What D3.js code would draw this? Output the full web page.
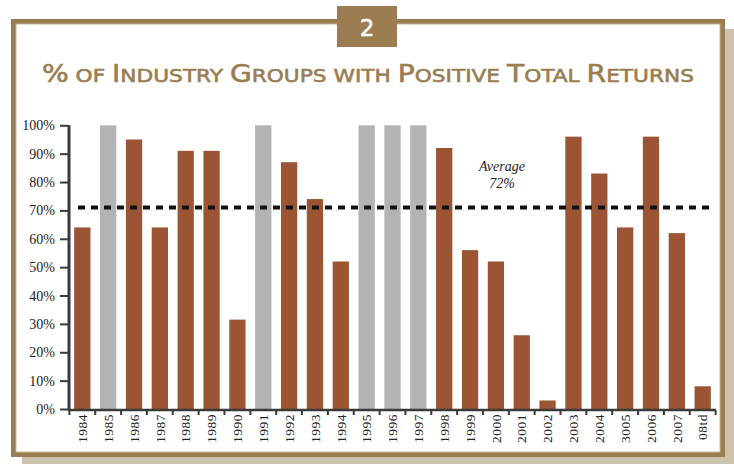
<!DOCTYPE html>
<html><head><meta charset="utf-8">
<script src="https://cdn.jsdelivr.net/npm/d3@7/dist/d3.min.js"></script>
<style>
html,body{margin:0;padding:0;background:#fff;}
svg{display:block;}
</style></head>
<body>
<svg id="chart" width="734" height="464"></svg>
<script>
// ---- data ----
const categories = ["1984","1985","1986","1987","1988","1989","1990","1991","1992","1993","1994","1995","1996","1997","1998","1999","2000","2001","2002","2003","2004","3005","2006","2007","08td"];
const values = [64,100,95,64,91,91,31.5,100,87,74,52,100,100,100,92,56,52,26,3,96,83,64,96,62,8];
const grayCategories = ["1985","1991","1995","1996","1997"];
const yTicks = [0,10,20,30,40,50,60,70,80,90,100];
const averageValue = 71;
const averageLabel = ["Average","72%"];
const chartNumber = "2";
const titleText = "% of Industry Groups with Positive Total Returns";

// ---- styles ----
const gold = "#9b7d51";
const brown = "#9b5535";
const gray = "#b3b3b3";

const svg = d3.select("#chart");

// shadow
svg.append("rect").attr("x",22).attr("y",29).attr("width",712).attr("height",435).attr("fill","#cdc2aa");
// frame
svg.append("rect").attr("x",11).attr("y",19).attr("width",714).attr("height",438).attr("fill",gold);
svg.append("rect").attr("x",16).attr("y",24).attr("width",704).attr("height",428).attr("fill","#fff");
svg.append("rect").attr("x",16).attr("y",24).attr("width",704).attr("height",428).attr("fill","none").attr("stroke","#c9b896").attr("stroke-width",1);

// number box
svg.append("rect").attr("x",337).attr("y",6).attr("width",60).attr("height",41).attr("fill",gold);
svg.append("text").attr("x",367).attr("y",36).attr("text-anchor","middle")
  .attr("font-family","DejaVu Sans").attr("font-size",23).attr("fill","#fff")
  .attr("stroke","#fff").attr("stroke-width",0.5).text(chartNumber);

// title in small caps
const title = svg.append("text").attr("x",42).attr("y",82)
  .attr("font-family","DejaVu Sans").attr("fill",gold)
  .attr("stroke",gold).attr("stroke-width",0.6)
  .attr("textLength",652).attr("lengthAdjust","spacingAndGlyphs");
const runs = [];
for (const ch of titleText) {
  const big = ch !== ch.toLowerCase() || ch === "%";
  const last = runs[runs.length-1];
  if (last && last.big === big) last.s += ch; else runs.push({big, s: ch});
}
runs.forEach(r => title.append("tspan").attr("font-size", r.big ? 24 : 18.5).text(r.big ? r.s : r.s.toUpperCase()));

// scales
const x = d3.scaleBand().domain(categories).range([69,716]).paddingInner(0.37).paddingOuter(0.2);
const y = d3.scaleLinear().domain([0,100]).range([409,125.3]);

// bars
svg.append("g").selectAll("rect").data(categories).join("rect")
  .attr("x", d => x(d))
  .attr("width", x.bandwidth())
  .attr("y", (d,i) => y(values[i]))
  .attr("height", (d,i) => y(0) - y(values[i]))
  .attr("fill", d => grayCategories.includes(d) ? gray : brown);

// y axis
const yAxis = svg.append("g").attr("transform","translate(69,0)")
  .call(d3.axisLeft(y).tickValues(yTicks).tickFormat(d => d + "%").tickSize(9).tickPadding(5));
yAxis.select(".domain").attr("stroke","#3a3a3a").attr("stroke-width",3).attr("d","M0,125.3V411");
yAxis.selectAll(".tick line").attr("stroke","#3a3a3a").attr("stroke-width",2);
yAxis.selectAll(".tick text").attr("font-family","Liberation Serif").attr("font-size",14).attr("fill","#222");

// x axis
const xAxis = svg.append("g").attr("transform","translate(0,410)")
  .call(d3.axisBottom(x).tickSize(0).tickPadding(4));
xAxis.select(".domain").attr("stroke","#3a3a3a").attr("stroke-width",2.5).attr("d","M69,0H716");
xAxis.selectAll(".tick text")
  .attr("font-family","Liberation Serif").attr("font-size",13.5).attr("fill","#222")
  .attr("letter-spacing",0.5)
  .attr("transform","rotate(-90)").attr("text-anchor","end")
  .attr("x",-4).attr("y",0).attr("dy","0.35em");
// boundary ticks
const step = x.step();
const boundaries = categories.map(c => x(c) - (step - x.bandwidth())/2).concat([x(categories[categories.length-1]) + x.bandwidth() + (step - x.bandwidth())/2]);
svg.append("g").selectAll("line").data(boundaries).join("line")
  .attr("x1", d => d).attr("x2", d => d).attr("y1", 410).attr("y2", 415)
  .attr("stroke","#3a3a3a").attr("stroke-width",2);

// average line
svg.append("line").attr("x1",78).attr("x2",712).attr("y1",y(averageValue)).attr("y2",y(averageValue))
  .attr("stroke","#111").attr("stroke-width",4).attr("stroke-dasharray","7,6");
svg.append("text").attr("x",502).attr("y",171).attr("text-anchor","middle")
  .attr("font-family","Liberation Serif").attr("font-style","italic").attr("font-size",14).attr("fill","#222").text(averageLabel[0]);
svg.append("text").attr("x",502).attr("y",188).attr("text-anchor","middle")
  .attr("font-family","Liberation Serif").attr("font-style","italic").attr("font-size",14).attr("fill","#222").text(averageLabel[1]);
</script>
</body></html>
